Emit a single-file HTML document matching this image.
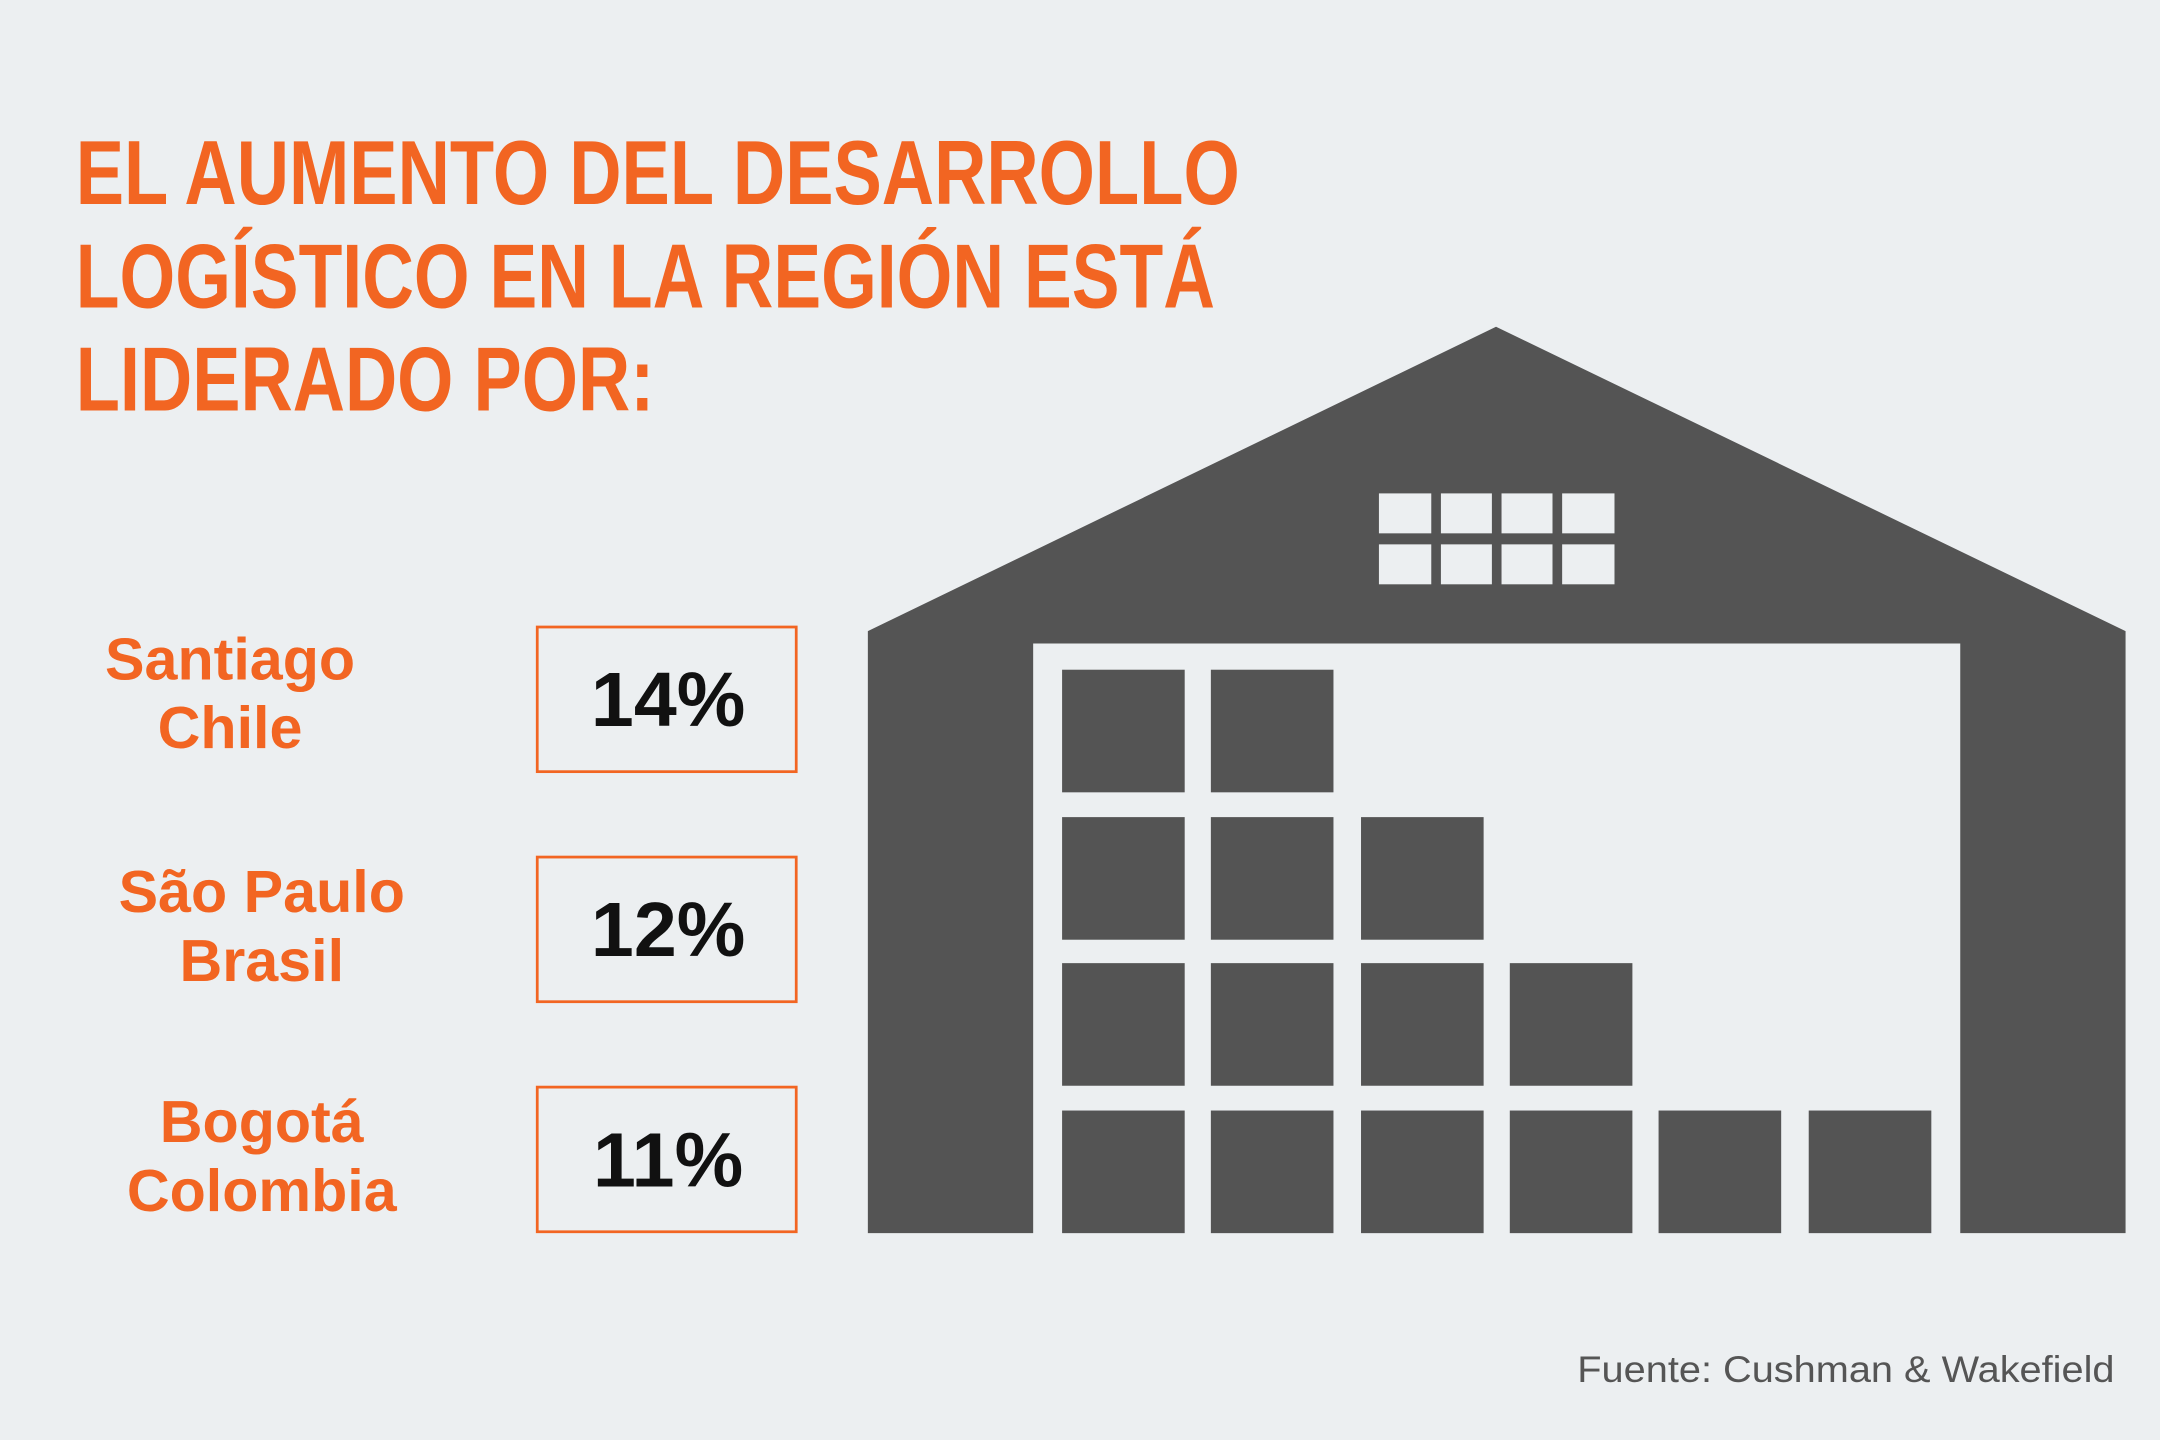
<!DOCTYPE html>
<html><head><meta charset="utf-8"><style>
html,body{margin:0;padding:0;background:#eceff1;}
svg{display:block;}
</style></head><body>
<svg width="2160" height="1440" viewBox="0 0 1568 1045" xmlns="http://www.w3.org/2000/svg">
<rect width="1568" height="1045" fill="#eceff1"/>
<g font-family="'Liberation Sans Narrow','Liberation Sans',sans-serif" font-weight="bold" fill="#f26522" font-size="66">
<text x="55" y="148" textLength="845" lengthAdjust="spacingAndGlyphs">EL AUMENTO DEL DESARROLLO</text>
<text x="55" y="223" textLength="827" lengthAdjust="spacingAndGlyphs">LOGÍSTICO EN LA REGIÓN ESTÁ</text>
<text x="55" y="298" textLength="420" lengthAdjust="spacingAndGlyphs">LIDERADO POR:</text>
</g>
<g font-family="'Liberation Sans',sans-serif" font-weight="bold" fill="#f26522" font-size="43" text-anchor="middle">
<text x="167" y="493">Santiago</text><text x="167" y="543">Chile</text>
<text x="190" y="662">São Paulo</text><text x="190" y="712">Brasil</text>
<text x="190" y="829">Bogotá</text><text x="190" y="879">Colombia</text>
</g>
<g fill="none" stroke="#f26522" stroke-width="2">
<rect x="390" y="455" width="188" height="105"/>
<rect x="390" y="622" width="188" height="105"/>
<rect x="390" y="789" width="188" height="105"/>
</g>
<g font-family="'Liberation Sans',sans-serif" font-weight="bold" fill="#111" font-size="56" text-anchor="middle">
<text x="485" y="527">14%</text><text x="485" y="694">12%</text><text x="485" y="861">11%</text>
</g>
<polygon points="1086,237 1543,458 1543,895 1423,895 1423,467 750,467 750,895 630,895 630,458" fill="#545454"/>
<g fill="#eceff1">
<rect x="1001" y="358" width="38" height="29"/><rect x="1046" y="358" width="37" height="29"/><rect x="1090" y="358" width="37" height="29"/><rect x="1134" y="358" width="38" height="29"/>
<rect x="1001" y="395" width="38" height="29"/><rect x="1046" y="395" width="37" height="29"/><rect x="1090" y="395" width="37" height="29"/><rect x="1134" y="395" width="38" height="29"/>
</g>
<g fill="#545454">
<rect x="771" y="486" width="89" height="89"/><rect x="879" y="486" width="89" height="89"/>
<rect x="771" y="593" width="89" height="89"/><rect x="879" y="593" width="89" height="89"/><rect x="988" y="593" width="89" height="89"/>
<rect x="771" y="699" width="89" height="89"/><rect x="879" y="699" width="89" height="89"/><rect x="988" y="699" width="89" height="89"/><rect x="1096" y="699" width="89" height="89"/>
<rect x="771" y="806" width="89" height="89"/><rect x="879" y="806" width="89" height="89"/><rect x="988" y="806" width="89" height="89"/><rect x="1096" y="806" width="89" height="89"/><rect x="1204" y="806" width="89" height="89"/><rect x="1313" y="806" width="89" height="89"/>
</g>
<text x="1145" y="1003" textLength="390" lengthAdjust="spacingAndGlyphs" font-family="'Liberation Sans',sans-serif" font-size="27" fill="#555">Fuente: Cushman &amp; Wakefield</text>
</svg>
</body></html>
